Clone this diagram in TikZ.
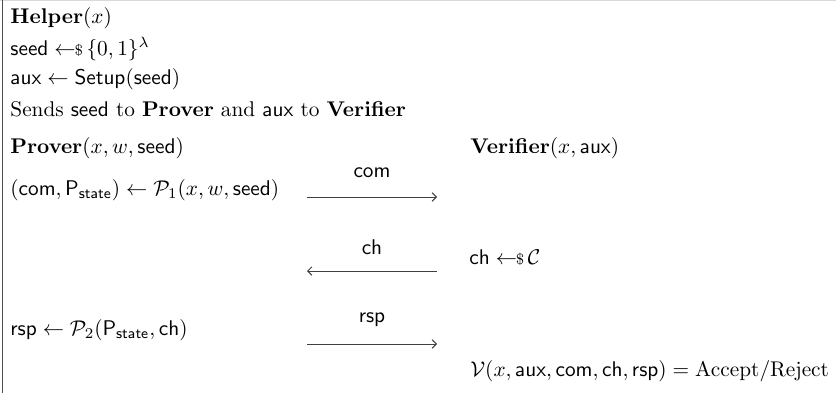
\documentclass[tikz,border=0pt]{standalone}
\usepackage{amsmath}
\usetikzlibrary{arrows.meta}
\newcommand{\smp}{\leftarrow\!\!\mbox{\scriptsize\$}\,}
\tikzset{
  txt/.style={anchor=west, inner sep=0pt},
  lbl/.style={inner sep=0pt},
  msg/.style={line width=0.45pt, black!75, -{Straight Barb[length=2pt,width=4pt]}},
}
\begin{document}
\begin{tikzpicture}[x=0.4699pt, y=-0.4699pt]
\fill[white] (0,0) rectangle (836,393);
\useasboundingbox (0,0) rectangle (836,393);
\draw[black!15, line width=0.5pt] (0,0.5) -- (836,0.5);
\draw[black!70, line width=0.6pt] (2.5,0) -- (2.5,393);

\node[txt] (helper) at (10,18) {$\mathbf{Helper}(x)$};
\node[txt] (seed) at (10,49) {$\mathsf{seed} \smp \{0,1\}^{\lambda}$};
\node[txt] (aux) at (10,79) {$\mathsf{aux} \leftarrow \mathsf{Setup}(\mathsf{seed})$};
\node[txt] (sends) at (10,109) {Sends $\mathsf{seed}$ to $\mathbf{Prover}$ and $\mathsf{aux}$ to $\mathbf{Verifier}$};
\node[txt] (prover) at (10,148) {$\mathbf{Prover}(x, w, \mathsf{seed})$};
\node[txt] (verifier) at (470,148) {$\mathbf{Verifier}(x, \mathsf{aux})$};

\node[txt] (p1) at (10,190) {$(\mathsf{com}, \mathsf{P}_{\mathsf{state}}) \leftarrow \mathcal{P}_1(x, w, \mathsf{seed})$};
\coordinate (a1s) at (307,197);
\coordinate (a1e) at (437,197);
\draw[msg] (a1s) -- (a1e);
\node[lbl] (comlbl) at (372,173) {$\mathsf{com}$};

\node[txt] (chs) at (469,258) {$\mathsf{ch} \smp \mathcal{C}$};
\coordinate (a2s) at (437,271);
\coordinate (a2e) at (307,271);
\draw[msg] (a2s) -- (a2e);
\node[lbl] (chlbl) at (372,247) {$\mathsf{ch}$};

\node[txt] (p2) at (10,330) {$\mathsf{rsp} \leftarrow \mathcal{P}_2(\mathsf{P}_{\mathsf{state}}, \mathsf{ch})$};
\coordinate (a3s) at (307,344);
\coordinate (a3e) at (437,344);
\draw[msg] (a3s) -- (a3e);
\node[lbl] (rsplbl) at (372,320) {$\mathsf{rsp}$};

\node[txt] (ver) at (470,371) {$\mathcal{V}(x, \mathsf{aux}, \mathsf{com}, \mathsf{ch}, \mathsf{rsp}) = \mathrm{Accept}/\mathrm{Reject}$};
\end{tikzpicture}
\end{document}
